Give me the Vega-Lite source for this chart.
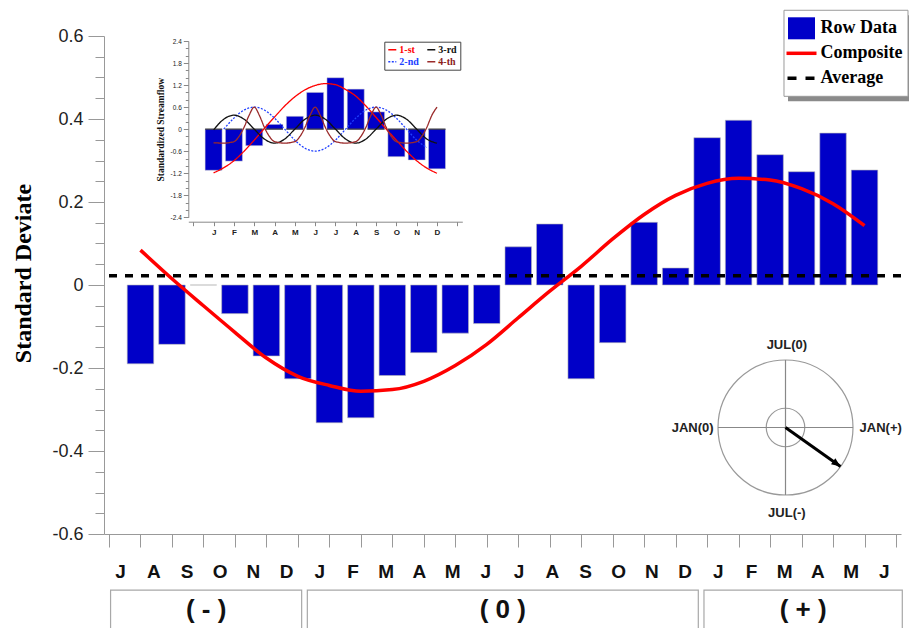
{
  "$schema": "https://vega.github.io/schema/vega-lite/v6.json",
  "width": 797,
  "height": 498,
  "autosize": {"type": "none"},
  "padding": {"left": 104, "top": 36, "right": 8, "bottom": 94},
  "background": "white",
  "config": {"view": {"stroke": null}, "axis": {"grid": false}},
  "datasets": {
    "main": [
      {"t": 1, "month": "J", "value": -0.190, "comp": 0.084},
      {"t": 2, "month": "A", "value": -0.143, "comp": 0.015},
      {"t": 3, "month": "S", "value": 0.0, "comp": -0.050},
      {"t": 4, "month": "O", "value": -0.069, "comp": -0.114},
      {"t": 5, "month": "N", "value": -0.171, "comp": -0.176},
      {"t": 6, "month": "D", "value": -0.226, "comp": -0.220},
      {"t": 7, "month": "J", "value": -0.332, "comp": -0.242},
      {"t": 8, "month": "F", "value": -0.320, "comp": -0.256},
      {"t": 9, "month": "M", "value": -0.218, "comp": -0.252},
      {"t": 10, "month": "A", "value": -0.163, "comp": -0.232},
      {"t": 11, "month": "M", "value": -0.116, "comp": -0.194},
      {"t": 12, "month": "J", "value": -0.093, "comp": -0.143},
      {"t": 13, "month": "J", "value": 0.092, "comp": -0.079},
      {"t": 14, "month": "A", "value": 0.147, "comp": -0.015},
      {"t": 15, "month": "S", "value": -0.226, "comp": 0.045},
      {"t": 16, "month": "O", "value": -0.139, "comp": 0.111},
      {"t": 17, "month": "N", "value": 0.151, "comp": 0.170},
      {"t": 18, "month": "D", "value": 0.041, "comp": 0.216},
      {"t": 19, "month": "J", "value": 0.355, "comp": 0.245},
      {"t": 20, "month": "F", "value": 0.397, "comp": 0.257},
      {"t": 21, "month": "M", "value": 0.314, "comp": 0.253},
      {"t": 22, "month": "A", "value": 0.273, "comp": 0.232},
      {"t": 23, "month": "M", "value": 0.366, "comp": 0.196},
      {"t": 24, "month": "J", "value": 0.277, "comp": 0.143}
    ],
    "avg": [{"average": 0.022}],
    "periods": [
      {"period": "( - )", "start": 0.05, "end": 6.12},
      {"period": "( 0 )", "start": 6.3, "end": 18.72},
      {"period": "( + )", "start": 18.9, "end": 25.2}
    ],
    "legend_entries": [
      {"entry": "Row Data"},
      {"entry": "Composite"},
      {"entry": "Average"}
    ],
    "inset_bars": [
      {"m": 1, "v": -1.12}, {"m": 2, "v": -0.87}, {"m": 3, "v": -0.45},
      {"m": 4, "v": 0.13}, {"m": 5, "v": 0.35}, {"m": 6, "v": 1.0},
      {"m": 7, "v": 1.40}, {"m": 8, "v": 1.09}, {"m": 9, "v": 0.47},
      {"m": 10, "v": -0.75}, {"m": 11, "v": -0.84}, {"m": 12, "v": -1.08}
    ],
    "inset_lines": [
      {"h": "1-st", "m": 1, "v": -1.19}, {"h": "1-st", "m": 1.5, "v": -1.05}, {"h": "1-st", "m": 2, "v": -0.86},
      {"h": "1-st", "m": 2.5, "v": -0.6}, {"h": "1-st", "m": 3, "v": -0.30}, {"h": "1-st", "m": 3.5, "v": 0.02},
      {"h": "1-st", "m": 4, "v": 0.33}, {"h": "1-st", "m": 4.5, "v": 0.63}, {"h": "1-st", "m": 5, "v": 0.88},
      {"h": "1-st", "m": 5.5, "v": 1.07}, {"h": "1-st", "m": 6, "v": 1.19}, {"h": "1-st", "m": 6.5, "v": 1.24},
      {"h": "1-st", "m": 7, "v": 1.21}, {"h": "1-st", "m": 7.5, "v": 1.08}, {"h": "1-st", "m": 8, "v": 0.90},
      {"h": "1-st", "m": 8.5, "v": 0.63}, {"h": "1-st", "m": 9, "v": 0.32}, {"h": "1-st", "m": 9.5, "v": 0.0},
      {"h": "1-st", "m": 10, "v": -0.30}, {"h": "1-st", "m": 10.5, "v": -0.6}, {"h": "1-st", "m": 11, "v": -0.86},
      {"h": "1-st", "m": 11.5, "v": -1.06}, {"h": "1-st", "m": 12, "v": -1.20},
      {"h": "2-nd", "m": 1.5, "v": 0.0}, {"h": "2-nd", "m": 2, "v": 0.30}, {"h": "2-nd", "m": 2.5, "v": 0.52},
      {"h": "2-nd", "m": 3, "v": 0.6}, {"h": "2-nd", "m": 3.5, "v": 0.52}, {"h": "2-nd", "m": 4, "v": 0.30},
      {"h": "2-nd", "m": 4.5, "v": 0.0}, {"h": "2-nd", "m": 5, "v": -0.30}, {"h": "2-nd", "m": 5.5, "v": -0.52},
      {"h": "2-nd", "m": 6, "v": -0.6}, {"h": "2-nd", "m": 6.5, "v": -0.52}, {"h": "2-nd", "m": 7, "v": -0.30},
      {"h": "2-nd", "m": 7.5, "v": 0.0}, {"h": "2-nd", "m": 8, "v": 0.30}, {"h": "2-nd", "m": 8.5, "v": 0.52},
      {"h": "2-nd", "m": 9, "v": 0.6}, {"h": "2-nd", "m": 9.5, "v": 0.52}, {"h": "2-nd", "m": 10, "v": 0.30},
      {"h": "2-nd", "m": 10.5, "v": 0.0}, {"h": "2-nd", "m": 11, "v": -0.30}, {"h": "2-nd", "m": 11.5, "v": -0.50},
      {"h": "3-rd", "m": 1, "v": -0.02}, {"h": "3-rd", "m": 1.5, "v": 0.27}, {"h": "3-rd", "m": 2, "v": 0.38},
      {"h": "3-rd", "m": 2.5, "v": 0.27}, {"h": "3-rd", "m": 3, "v": 0.0}, {"h": "3-rd", "m": 3.5, "v": -0.27},
      {"h": "3-rd", "m": 4, "v": -0.38}, {"h": "3-rd", "m": 4.5, "v": -0.27}, {"h": "3-rd", "m": 5, "v": 0.0},
      {"h": "3-rd", "m": 5.5, "v": 0.27}, {"h": "3-rd", "m": 6, "v": 0.38}, {"h": "3-rd", "m": 6.5, "v": 0.27},
      {"h": "3-rd", "m": 7, "v": 0.0}, {"h": "3-rd", "m": 7.5, "v": -0.27}, {"h": "3-rd", "m": 8, "v": -0.38},
      {"h": "3-rd", "m": 8.5, "v": -0.27}, {"h": "3-rd", "m": 9, "v": 0.0}, {"h": "3-rd", "m": 9.5, "v": 0.27},
      {"h": "3-rd", "m": 10, "v": 0.38}, {"h": "3-rd", "m": 10.5, "v": 0.27}, {"h": "3-rd", "m": 11, "v": 0.0},
      {"h": "3-rd", "m": 11.5, "v": -0.27}, {"h": "3-rd", "m": 12, "v": -0.38},
      {"h": "4-th", "m": 1, "v": -0.37}, {"h": "4-th", "m": 1.5, "v": -0.38}, {"h": "4-th", "m": 2, "v": -0.34},
      {"h": "4-th", "m": 2.25, "v": -0.2}, {"h": "4-th", "m": 2.5, "v": 0.05}, {"h": "4-th", "m": 2.75, "v": 0.38},
      {"h": "4-th", "m": 3, "v": 0.6}, {"h": "4-th", "m": 3.25, "v": 0.38}, {"h": "4-th", "m": 3.5, "v": 0.05},
      {"h": "4-th", "m": 3.75, "v": -0.2}, {"h": "4-th", "m": 4, "v": -0.34}, {"h": "4-th", "m": 4.5, "v": -0.38},
      {"h": "4-th", "m": 5, "v": -0.34}, {"h": "4-th", "m": 5.25, "v": -0.2}, {"h": "4-th", "m": 5.5, "v": 0.05},
      {"h": "4-th", "m": 5.75, "v": 0.38}, {"h": "4-th", "m": 6, "v": 0.6}, {"h": "4-th", "m": 6.25, "v": 0.38},
      {"h": "4-th", "m": 6.5, "v": 0.05}, {"h": "4-th", "m": 6.75, "v": -0.2}, {"h": "4-th", "m": 7, "v": -0.34},
      {"h": "4-th", "m": 7.5, "v": -0.38}, {"h": "4-th", "m": 8, "v": -0.34}, {"h": "4-th", "m": 8.25, "v": -0.2},
      {"h": "4-th", "m": 8.5, "v": 0.05}, {"h": "4-th", "m": 8.75, "v": 0.38}, {"h": "4-th", "m": 9, "v": 0.6},
      {"h": "4-th", "m": 9.25, "v": 0.38}, {"h": "4-th", "m": 9.5, "v": 0.05}, {"h": "4-th", "m": 9.75, "v": -0.2},
      {"h": "4-th", "m": 10, "v": -0.34}, {"h": "4-th", "m": 10.5, "v": -0.38}, {"h": "4-th", "m": 11, "v": -0.34},
      {"h": "4-th", "m": 11.25, "v": -0.2}, {"h": "4-th", "m": 11.5, "v": 0.05}, {"h": "4-th", "m": 11.75, "v": 0.38},
      {"h": "4-th", "m": 12, "v": 0.6}
    ],
    "phase": [{"ox": 0, "oy": 0, "px": 0.815, "py": -0.578}],
    "diameters": [
      {"d": "JAN", "x1": -1, "x2": 1, "y1": 0, "y2": 0},
      {"d": "JUL", "x1": 0, "x2": 0, "y1": -1, "y2": 1}
    ],
    "rings": [{"ring": "outer", "cx": 0, "cy": 0}, {"ring": "inner", "cx": 0, "cy": 0}],
    "compass": [
      {"label": "JUL(0)", "cx": 0.02, "cy": 1.22},
      {"label": "JUL(-)", "cx": 0.02, "cy": -1.26},
      {"label": "JAN(0)", "cx": -1.375, "cy": 0.0},
      {"label": "JAN(+)", "cx": 1.41, "cy": 0.0}
    ]
  },
  "resolve": {
    "scale": {"x": "independent", "y": "independent", "color": "independent", "strokeDash": "independent"},
    "axis": {"x": "independent", "y": "independent"}
  },
  "layer": [
    {
      "layer": [
        {
          "data": {"name": "main"},
          "mark": {"type": "bar", "size": 26.5, "color": "#0000c8", "stroke": "#b8b8b8", "strokeWidth": 0.6},
          "encoding": {
            "x": {
              "field": "t", "type": "quantitative",
              "scale": {"domain": [0, 25], "nice": false, "zero": false},
              "axis": {
                "orient": "bottom", "title": null, "labels": false,
                "values": [0,1,2,3,4,5,6,7,8,9,10,11,12,13,14,15,16,17,18,19,20,21,22,23,24,25],
                "tickCount": 100,
                "tickSize": 13, "tickColor": "#999999", "domainColor": "#999999"
              }
            },
            "y": {
              "field": "value", "type": "quantitative",
              "scale": {"domain": [-0.6, 0.6], "nice": false},
              "axis": {
                "orient": "left",
                "values": [-0.6,-0.55,-0.5,-0.45,-0.4,-0.35,-0.3,-0.25,-0.2,-0.15,-0.1,-0.05,0,0.05,0.1,0.15,0.2,0.25,0.3,0.35,0.4,0.45,0.5,0.55,0.6],
                "tickCount": 100,
                "labelExpr": "abs(round(datum.value*100)) % 20 == 0 ? ('' + datum.value) : ''",
                "tickSize": {"condition": {"test": "abs(round(datum.value*100)) % 20 == 0", "value": 16}, "value": 9},
                "tickColor": "#999999", "domainColor": "#999999",
                "labelFont": "Liberation Sans", "labelFontSize": 18, "labelColor": "#222222",
                "labelPadding": 5, "labelOverlap": false, "labelFlush": false,
                "title": "Standard Deviate", "titleFont": "Liberation Serif", "titleFontSize": 24,
                "titleFontWeight": "bold", "titleColor": "#000000",
                "titleX": -81, "titleY": 237, "titleBaseline": "middle", "titleAlign": "center", "titleAngle": -90
              }
            }
          }
        },
        {
          "data": {"name": "main"},
          "mark": {"type": "line", "strokeWidth": 3.5, "interpolate": "monotone", "color": "#ff0000"},
          "encoding": {
            "x": {"field": "t", "type": "quantitative"},
            "y": {"field": "comp", "type": "quantitative"}
          }
        },
        {
          "data": {"name": "avg"},
          "mark": {"type": "rule", "strokeWidth": 3.5, "strokeDash": [8, 8], "color": "#000000"},
          "encoding": {
            "y": {"field": "average", "type": "quantitative"}
          }
        },
        {
          "data": {"name": "periods"},
          "transform": [{"calculate": "-0.735", "as": "boxTop"}, {"calculate": "-0.95", "as": "boxBottom"}],
          "mark": {"type": "rect", "fill": "white", "stroke": "#a8a8a8", "strokeWidth": 1.2},
          "encoding": {
            "x": {"field": "start", "type": "quantitative"},
            "x2": {"field": "end"},
            "y": {"field": "boxTop", "type": "quantitative"},
            "y2": {"field": "boxBottom"}
          }
        },
        {
          "data": {"name": "periods"},
          "transform": [{"calculate": "(datum.start + datum.end) / 2", "as": "mid"}],
          "mark": {"type": "text", "font": "Liberation Sans", "fontWeight": "bold", "fontSize": 26, "baseline": "middle", "color": "#111111"},
          "encoding": {
            "x": {"field": "mid", "type": "quantitative"},
            "y": {"datum": -0.783, "type": "quantitative"},
            "text": {"field": "period"}
          }
        }
      ]
    },
    {
      "data": {"name": "main"},
      "transform": [{"calculate": "datum.month + '|' + datum.t", "as": "key"}],
      "mark": {"type": "tick", "opacity": 0},
      "encoding": {
        "x": {
          "field": "key", "type": "nominal", "sort": null,
          "scale": {"type": "band", "paddingInner": 0, "paddingOuter": 0},
          "axis": {
            "orient": "bottom", "title": null, "ticks": false, "domain": false,
            "labelExpr": "split(datum.label, '|')[0]", "labelAngle": 0,
            "labelFont": "Liberation Sans", "labelFontWeight": "bold", "labelFontSize": 19,
            "labelColor": "#111111", "labelPadding": 28
          }
        }
      }
    },
    {
      "layer": [
        {
          "data": {"name": "inset_bars"},
          "mark": {"type": "bar", "size": 17, "color": "#0000c8", "stroke": "#d0d0d0", "strokeWidth": 0.5},
          "encoding": {
            "x": {
              "field": "m", "type": "quantitative",
              "scale": {"domain": [0, 13], "range": [84.3, 358.3], "nice": false, "zero": false},
              "axis": {
                "orient": "bottom", "offset": -312.3, "title": null,
                "values": [0,1,2,3,4,5,6,7,8,9,10,11,12,13],
                "tickCount": 100,
                "labelExpr": "['','J','F','M','A','M','J','J','A','S','O','N','D',''][datum.value]",
                "tickSize": 4, "tickColor": "#888888", "domainColor": "#888888",
                "labelFont": "Liberation Sans", "labelFontWeight": "bold", "labelFontSize": 8,
                "labelColor": "#222222", "labelPadding": 3, "labelFlush": false, "labelOverlap": false
              }
            },
            "y": {
              "field": "v", "type": "quantitative",
              "scale": {"domain": [-2.4, 2.4], "range": [181.3, 5], "nice": false},
              "axis": {
                "orient": "left", "offset": -84.3,
                "values": [-2.4,-2.2,-2,-1.8,-1.6,-1.4,-1.2,-1,-0.8,-0.6,-0.4,-0.2,0,0.2,0.4,0.6,0.8,1,1.2,1.4,1.6,1.8,2,2.2,2.4],
                "tickCount": 100,
                "labelExpr": "abs(round(datum.value*10)) % 6 == 0 ? ('' + datum.value) : ''",
                "tickSize": {"condition": {"test": "abs(round(datum.value*10)) % 6 == 0", "value": 5}, "value": 3},
                "tickColor": "#888888", "domainColor": "#888888",
                "labelFont": "Liberation Sans", "labelFontSize": 6.5, "labelColor": "#222222",
                "labelPadding": 2, "labelOverlap": false, "labelFlush": false,
                "title": "Standardized Streamflow", "titleFont": "Liberation Serif", "titleFontSize": 9.5,
                "titleFontWeight": "bold", "titleColor": "#111111",
                "titleX": -28, "titleBaseline": "middle", "titleAlign": "center", "titleAngle": -90
              }
            }
          }
        },
        {
          "data": {"name": "inset_bars"},
          "mark": {"type": "tick", "orient": "horizontal", "size": 17, "thickness": 1.5, "color": "#222222"},
          "encoding": {
            "x": {"field": "m", "type": "quantitative"},
            "y": {"datum": 0, "type": "quantitative"}
          }
        },
        {
          "data": {"name": "inset_lines"},
          "mark": {"type": "line", "strokeWidth": 1.3, "interpolate": "monotone"},
          "encoding": {
            "x": {"field": "m", "type": "quantitative"},
            "y": {"field": "v", "type": "quantitative"},
            "color": {
              "field": "h", "type": "nominal",
              "scale": {"domain": ["1-st", "2-nd", "3-rd", "4-th"], "range": ["#ff0000", "#2040ff", "#111111", "#9a2a2a"]},
              "legend": {
                "title": null, "orient": "none", "legendX": 280.3, "legendY": 5.7, "columns": 2,
                "symbolType": "stroke", "symbolSize": 64, "symbolStrokeWidth": 1.6,
                "labelFont": "Liberation Serif", "labelFontWeight": "bold", "labelFontSize": 10,
                "labelColor": {"expr": "datum.value === '1-st' ? '#ff0000' : datum.value === '2-nd' ? '#2040ff' : datum.value === '4-th' ? '#8b1a1a' : '#111111'"},
                "labelOffset": 2, "columnPadding": 4, "rowPadding": 2, "padding": 3,
                "fillColor": "white", "strokeColor": "#444444"
              }
            },
            "strokeDash": {
              "field": "h", "type": "nominal",
              "scale": {"domain": ["1-st", "2-nd", "3-rd", "4-th"], "range": [[1, 0], [2, 1.5], [1, 0], [1, 0]]},
              "legend": {"title": null, "orient": "none", "legendX": 280.3, "legendY": 5.7, "columns": 2}
            }
          }
        }
      ]
    },
    {
      "layer": [
        {
          "data": {"name": "rings"},
          "transform": [{"filter": "datum.ring === 'outer'"}],
          "mark": {"type": "point", "shape": "circle", "size": 18225, "filled": false, "stroke": "#999999", "strokeWidth": 1.2, "opacity": 1},
          "encoding": {
            "x": {"field": "cx", "type": "quantitative", "scale": {"domain": [-1, 1], "range": [614, 749], "nice": false, "zero": false}, "axis": null},
            "y": {"field": "cy", "type": "quantitative", "scale": {"domain": [-1, 1], "range": [459, 324], "nice": false, "zero": false}, "axis": null}
          }
        },
        {
          "data": {"name": "rings"},
          "transform": [{"filter": "datum.ring === 'inner'"}],
          "mark": {"type": "point", "shape": "circle", "size": 1482, "filled": false, "stroke": "#999999", "strokeWidth": 1.2, "opacity": 1},
          "encoding": {
            "x": {"field": "cx", "type": "quantitative", "axis": null},
            "y": {"field": "cy", "type": "quantitative", "axis": null}
          }
        },
        {
          "data": {"name": "diameters"},
          "mark": {"type": "rule", "color": "#888888", "strokeWidth": 1.2},
          "encoding": {
            "x": {"field": "x1", "type": "quantitative", "axis": null},
            "x2": {"field": "x2"},
            "y": {"field": "y1", "type": "quantitative", "axis": null},
            "y2": {"field": "y2"}
          }
        },
        {
          "data": {"name": "phase"},
          "mark": {"type": "rule", "color": "#000000", "strokeWidth": 3},
          "encoding": {
            "x": {"field": "ox", "type": "quantitative", "axis": null},
            "y": {"field": "oy", "type": "quantitative", "axis": null},
            "x2": {"field": "px"},
            "y2": {"field": "py"}
          }
        },
        {
          "data": {"name": "phase"},
          "mark": {"type": "point", "shape": "M0,0L-1.8,-0.75L-1.8,0.75Z", "size": 100, "filled": true, "color": "#000000", "opacity": 1, "angle": 35.3},
          "encoding": {
            "x": {"field": "px", "type": "quantitative", "axis": null},
            "y": {"field": "py", "type": "quantitative", "axis": null}
          }
        },
        {
          "data": {"name": "compass"},
          "mark": {"type": "text", "font": "Liberation Sans", "fontWeight": "bold", "fontSize": 13, "color": "#222222", "baseline": "middle", "align": "center"},
          "encoding": {
            "x": {"field": "cx", "type": "quantitative", "axis": null},
            "y": {"field": "cy", "type": "quantitative", "axis": null},
            "text": {"field": "label"}
          }
        }
      ]
    },
    {
      "layer": [
        {
          "data": {"name": "legend_entries"},
          "transform": [{"filter": "datum.entry === 'Composite'"}],
          "mark": {"type": "point", "shape": "M-1,-0.694L1,-0.694L1,0.694L-1,0.694Z", "size": 15376, "filled": true, "color": "#8a8a8a", "opacity": 1, "xOffset": 4, "yOffset": 5},
          "encoding": {
            "x": {"datum": 2.342, "type": "quantitative", "scale": {"domain": [0, 1], "range": [697.5, 716.5], "nice": false, "zero": false}, "axis": null},
            "y": {"field": "entry", "type": "nominal", "sort": null, "scale": {"type": "point", "domain": ["Row Data", "Composite", "Average"], "range": [-7.7, 42.3], "padding": 0}, "axis": null}
          }
        },
        {
          "data": {"name": "legend_entries"},
          "transform": [{"filter": "datum.entry === 'Composite'"}],
          "mark": {"type": "point", "shape": "M-1,-0.694L1,-0.694L1,0.694L-1,0.694Z", "size": 15376, "filled": false, "fill": "white", "fillOpacity": 1, "stroke": "#9a9a9a", "strokeWidth": 1, "opacity": 1},
          "encoding": {
            "x": {"datum": 2.342, "type": "quantitative", "axis": null},
            "y": {"field": "entry", "type": "nominal", "axis": null}
          }
        },
        {
          "data": {"name": "legend_entries"},
          "transform": [{"filter": "datum.entry === 'Row Data'"}],
          "mark": {"type": "point", "shape": "M-1,-0.815L1,-0.815L1,0.815L-1,0.815Z", "size": 729, "filled": true, "color": "#0000c8", "opacity": 1},
          "encoding": {
            "x": {"datum": 0, "type": "quantitative", "axis": null},
            "y": {"field": "entry", "type": "nominal", "axis": null}
          }
        },
        {
          "data": {"name": "legend_entries"},
          "transform": [{"filter": "datum.entry === 'Composite'"}],
          "mark": {"type": "point", "shape": "stroke", "size": 900, "filled": false, "stroke": "#ff0000", "strokeWidth": 3.5, "opacity": 1},
          "encoding": {
            "x": {"datum": 0, "type": "quantitative", "axis": null},
            "y": {"field": "entry", "type": "nominal", "axis": null}
          }
        },
        {
          "data": {"name": "legend_entries"},
          "transform": [{"filter": "datum.entry === 'Average'"}],
          "mark": {"type": "point", "shape": "stroke", "size": 784, "filled": false, "stroke": "#000000", "strokeWidth": 3.5, "strokeDash": [9, 9], "opacity": 1},
          "encoding": {
            "x": {"datum": 0, "type": "quantitative", "axis": null},
            "y": {"field": "entry", "type": "nominal", "axis": null}
          }
        },
        {
          "data": {"name": "legend_entries"},
          "mark": {"type": "text", "font": "Liberation Serif", "fontWeight": "bold", "fontSize": 18, "color": "#000000", "align": "left", "baseline": "middle"},
          "encoding": {
            "x": {"datum": 1, "type": "quantitative", "axis": null},
            "y": {"field": "entry", "type": "nominal", "axis": null},
            "text": {"field": "entry"}
          }
        }
      ]
    }
  ]
}
